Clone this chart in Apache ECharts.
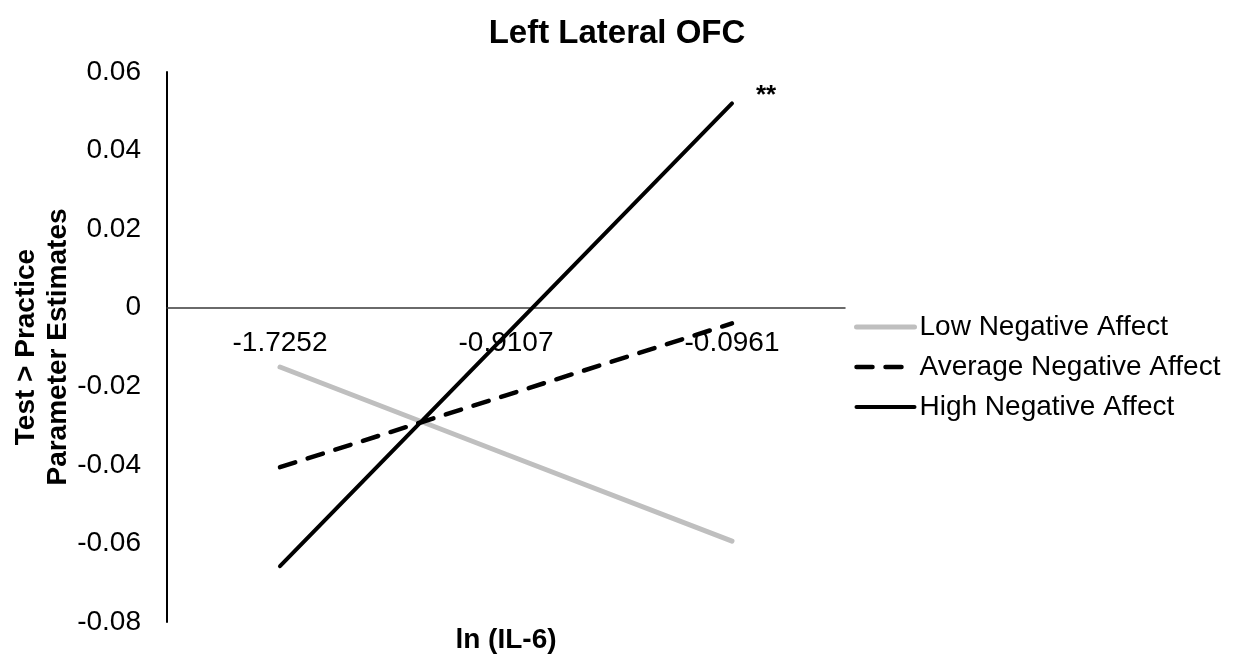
<!DOCTYPE html>
<html>
<head>
<meta charset="utf-8">
<script src="https://cdn.jsdelivr.net/npm/echarts@6/dist/echarts.min.js"></script>
<style>
  html, body { margin: 0; padding: 0; background: #fff; }
  #chart { width: 1235px; height: 661px; }
</style>
</head>
<body>
<div id="chart"></div>
<script>
// ln(IL-6) levels on the x axis
const categories = ['-1.7252', '-0.9107', '-0.0961'];
// Simple-slope estimates for each level of negative affect
const lowNegAffect = [-0.0151, -0.0373, -0.0594];
const avgNegAffect = [-0.0406, -0.0223, -0.0040];
const highNegAffect = [-0.0658, -0.0069, 0.0520];
const seriesNames = ['Low Negative Affect', 'Average Negative Affect', 'High Negative Affect'];
const sigMark = '**';
const yMin = -0.08, yMax = 0.06, yStep = 0.02;

const FONT = '"Liberation Sans", Arial, sans-serif';
const GRID = { left: 167, right: 390, top: 72, bottom: 39 };
const H = 661;
const plotH = H - GRID.top - GRID.bottom;
// lift the category axis (and its labels) up to the y = 0 line
const zeroOffset = -plotH * (0 - yMin) / (yMax - yMin);

const chart = echarts.init(document.getElementById('chart'));

chart.setOption({
  backgroundColor: '#fff',
  animation: false,
  title: {
    text: 'Left Lateral OFC',
    left: 612, top: 12, textAlign: 'center',
    textStyle: { fontFamily: FONT, fontSize: 33, fontWeight: 'bold', color: '#000' }
  },
  grid: Object.assign({ containLabel: false, outerBoundsMode: 'none' }, GRID),
  legend: {
    orient: 'vertical',
    left: 849, top: 308,
    itemWidth: 58, itemHeight: 28, itemGap: 12,
    data: seriesNames,
    itemStyle: { opacity: 0 },
    lineStyle: { width: 'inherit' },
    textStyle: { fontFamily: FONT, fontSize: 28, color: '#000' }
  },
  xAxis: {
    type: 'category',
    data: categories,
    boundaryGap: true,
    offset: zeroOffset,
    axisLine: { onZero: false, lineStyle: { color: '#3a3a3a', width: 1.5 } },
    axisTick: { show: false },
    axisLabel: { margin: 22, color: '#000', fontFamily: FONT, fontSize: 28 },
    splitLine: { show: false }
  },
  yAxis: {
    type: 'value',
    min: yMin, max: yMax, interval: yStep,
    name: 'Test > Practice\nParameter Estimates',
    nameLocation: 'middle',
    nameGap: 93,
    nameMoveOverlap: false,
    nameTextStyle: { fontFamily: FONT, fontSize: 28, fontWeight: 'bold', color: '#000', lineHeight: 32 },
    axisLine: { show: true, onZero: false, lineStyle: { color: '#000', width: 2 } },
    axisTick: { show: false },
    splitLine: { show: false },
    axisLabel: {
      margin: 26, color: '#000', fontFamily: FONT, fontSize: 28,
      formatter: v => Math.abs(v) < 1e-9 ? '0' : v.toFixed(2)
    }
  },
  graphic: [{
    type: 'text',
    x: 506, y: 640,
    style: { text: 'ln (IL-6)', font: 'bold 28px ' + FONT, fill: '#000', align: 'center', verticalAlign: 'middle' }
  }],
  series: [
    {
      name: seriesNames[0], type: 'line', data: lowNegAffect,
      symbol: 'none', z: 2,
      lineStyle: { color: '#bfbfbf', width: 5, cap: 'round' },
      itemStyle: { color: '#bfbfbf' }
    },
    {
      name: seriesNames[1], type: 'line', data: avgNegAffect,
      symbol: 'none', z: 3,
      lineStyle: { color: '#000', width: 4.5, type: [16, 13], cap: 'round' },
      itemStyle: { color: '#000' }
    },
    {
      name: seriesNames[2], type: 'line', data: highNegAffect,
      symbol: 'none', z: 4,
      lineStyle: { color: '#000', width: 4, cap: 'round' },
      itemStyle: { color: '#000' },
      // significance marker at the end of the high-affect line
      endLabel: {
        show: true, formatter: sigMark, distance: 24, offset: [0, -8],
        color: '#000', fontSize: 26, fontWeight: 'bold', fontFamily: FONT
      }
    }
  ]
});
</script>
</body>
</html>
